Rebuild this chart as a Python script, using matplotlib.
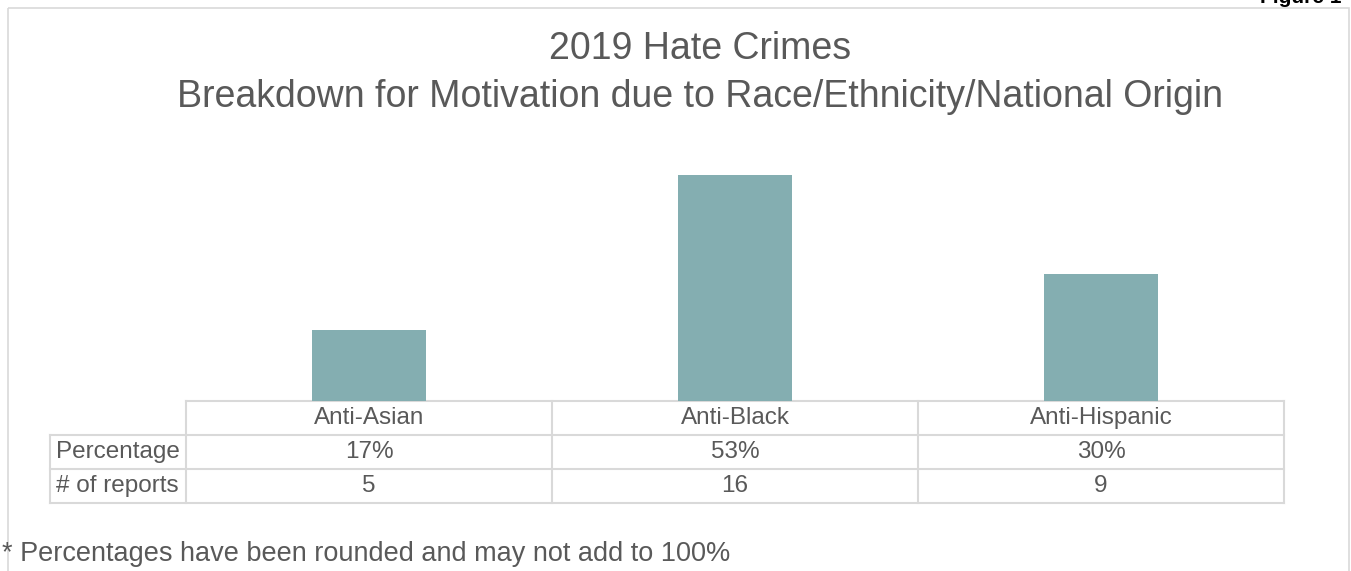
import matplotlib
matplotlib.use("Agg")
import matplotlib.pyplot as plt
from matplotlib.patches import Rectangle
import matplotlib.transforms as mtransforms

categories = ["Anti-Asian", "Anti-Black", "Anti-Hispanic"]
percentages = ["17%", "53%", "30%"]
reports = [5, 16, 9]
row_labels = ["Percentage", "# of reports"]

W, H = 1351, 571
fig = plt.figure(figsize=(W / 100, H / 100), dpi=100)
plt.rcParams['font.family'] = ['Liberation Sans', 'DejaVu Sans']
TXT = '#595959'
GRID = '#d9d9d9'

# overlay axes in pixel coordinates
ov = fig.add_axes([0, 0, 1, 1])
ov.set_xlim(0, W)
ov.set_ylim(H, 0)
ov.axis('off')

# bar axes
x0, x1, yb, yt = 186, 1284, 401, 147
ax = fig.add_axes([x0 / W, 1 - yb / H, (x1 - x0) / W, (yb - yt) / H])
xs = list(range(len(categories)))
ax.bar(xs, reports, width=0.314, color='#84aeb1')
ax.set_xlim(-0.5, len(categories) - 0.5)
ax.set_ylim(0, 18)
ax.axis('off')

# outer border
ov.add_patch(Rectangle((8, 8), 1341, 700, fill=False, edgecolor=GRID, lw=1.2))

# title
ov.text(700, 49, "2019 Hate Crimes", ha='center', va='center', fontsize=27, color=TXT)
ov.text(700, 97, "Breakdown for Motivation due to Race/Ethnicity/National Origin",
        ha='center', va='center', fontsize=27, color=TXT)

# Figure label (clipped at top)
ov.text(1342, 3, "Figure 1", ha='right', va='baseline', fontsize=15, fontweight='bold',
        color='black')

# table
rows_y = [401, 435, 469, 503]
lab_x0 = 50
lw = 1.5
ov.plot([x0, x1], [rows_y[0]] * 2, color=GRID, lw=lw)
for y in rows_y[1:]:
    ov.plot([lab_x0, x1], [y, y], color=GRID, lw=lw)
ov.plot([lab_x0, lab_x0], [rows_y[1], rows_y[3]], color=GRID, lw=lw)
bt = mtransforms.blended_transform_factory(ax.transData, ov.transData)
for b in [-0.5 + i for i in range(len(categories) + 1)]:
    ov.plot([b, b], [rows_y[0], rows_y[3]], color=GRID, lw=lw, transform=bt)

fs = 17.5
for i, c in enumerate(categories):
    ov.text(i, (rows_y[0] + rows_y[1]) / 2, c, ha='center', va='center', fontsize=fs,
            color=TXT, transform=bt)
    ov.text(i, (rows_y[1] + rows_y[2]) / 2, percentages[i], ha='center', va='center',
            fontsize=fs, color=TXT, transform=bt)
    ov.text(i, (rows_y[2] + rows_y[3]) / 2, str(reports[i]), ha='center', va='center',
            fontsize=fs, color=TXT, transform=bt)
for j, lab in enumerate(row_labels):
    ov.text(lab_x0 + 6, (rows_y[j + 1] + rows_y[j + 2]) / 2, lab, ha='left', va='center',
            fontsize=fs, color=TXT)

ov.text(2, 554, "* Percentages have been rounded and may not add to 100%", ha='left',
        va='center', fontsize=19.5, color=TXT)

fig.savefig("out.png", dpi=100)
